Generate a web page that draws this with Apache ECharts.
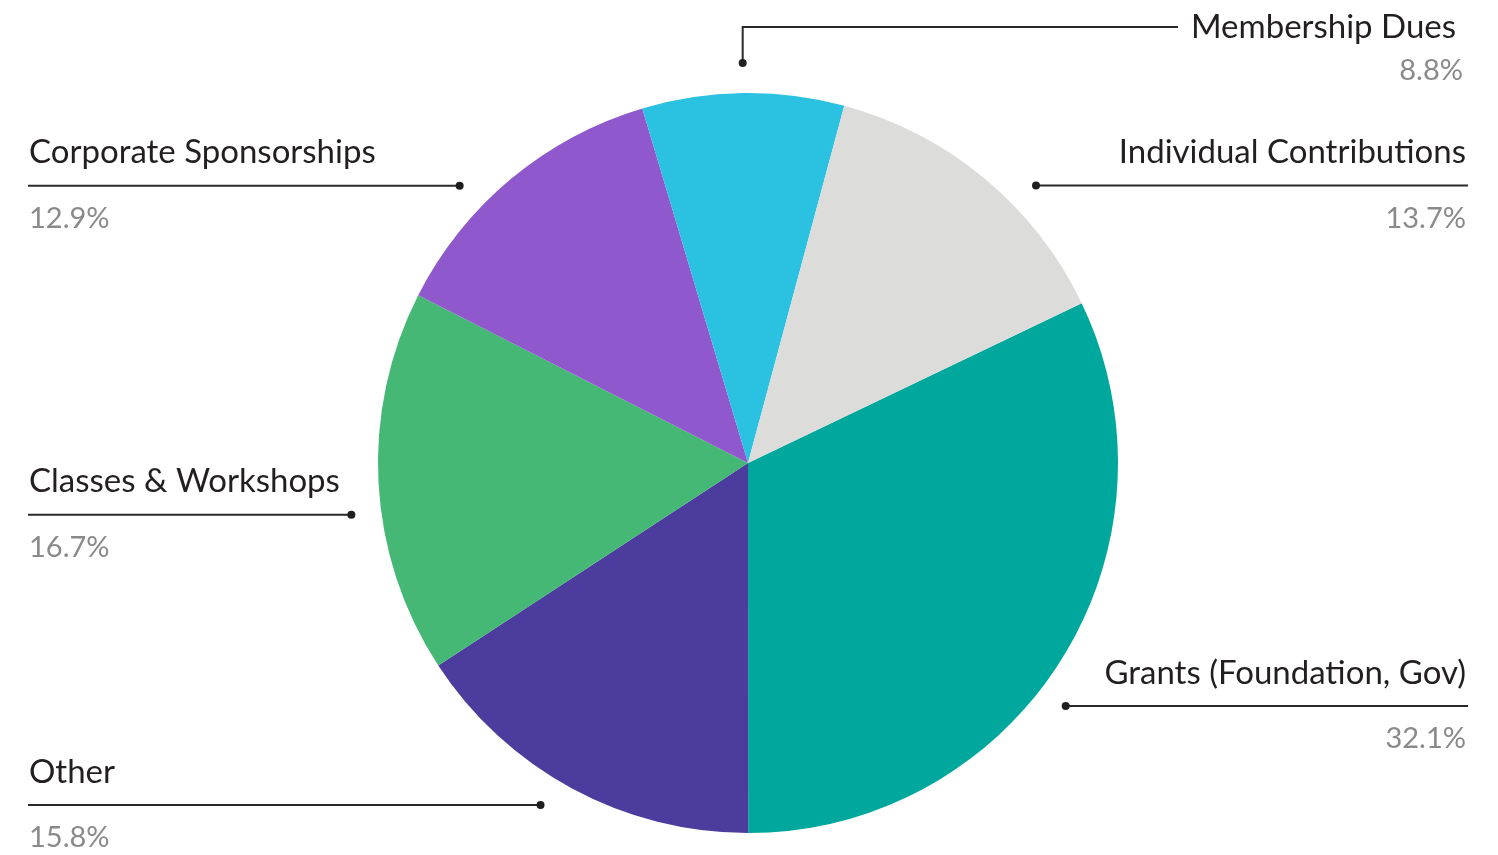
<!DOCTYPE html>
<html><head><meta charset="utf-8">
<script src="https://cdn.jsdelivr.net/npm/echarts@6/dist/echarts.min.js"></script>
<style>html,body{margin:0;padding:0;background:#fff}#c{width:1498px;height:855px}</style>
</head><body><div id="c"></div>
<script>
// ---- data ----
const categories = ['Grants (Foundation, Gov)', 'Other', 'Classes & Workshops', 'Corporate Sponsorships', 'Membership Dues', 'Individual Contributions'];
const values = [32.1, 15.8, 16.7, 12.9, 8.8, 13.7];
const percentLabels = ['32.1%', '15.8%', '16.7%', '12.9%', '8.8%', '13.7%'];
const colors = ['#00a79d', '#4b3c9d', '#44b874', '#8f58cd', '#2bc1e1', '#dcdcda'];

// ---- layout / style ----
const W = 1498, H = 855;
const CX = 748, CY = 463, R = 370, START = 25.6;
const DOT_R = R + 30, EDGE = 30, TOP_Y = 27, LABEL_DY = 30;
const FONT = 'Lato';
const NAME_SIZE = 33, PCT_SIZE = 29;

const total = values.reduce((a, b) => a + b, 0);
let acc = 0;
const lay = values.map((v, i) => {
  const mid = (START - (acc + v / 2) / total * 360) * Math.PI / 180;
  acc += v;
  const c = Math.cos(mid), s = Math.sin(mid);
  return { i, mid, side: c >= 0 ? 'right' : 'left', top: Math.abs(c) < 0.2 && s > 0, y: CY - DOT_R * s + LABEL_DY };
});
['left', 'right'].forEach(side => {
  const items = lay.filter(l => l.side === side && !l.top).sort((a, b) => a.y - b.y);
  items.forEach(l => { l.y = Math.min(Math.max(l.y, TOP_Y + 110), H - 50); });
  for (let k = 1; k < items.length; k++) {
    if (items[k].y - items[k - 1].y < 130) items[k].y = items[k - 1].y + 130;
  }
});
lay.forEach(l => {
  if (l.top) {
    l.dot = [CX + DOT_R * Math.cos(l.mid), CY - DOT_R * Math.sin(l.mid)];
    l.y = TOP_Y;
  } else {
    const dy = l.y - CY;
    const dx = Math.sqrt(Math.max(DOT_R * DOT_R - dy * dy, 0));
    l.dot = [l.side === 'right' ? CX + dx : CX - dx, l.y];
  }
});

const chart = echarts.init(document.getElementById('c'), null, { renderer: 'canvas' });
chart.setOption({
  animation: false,
  backgroundColor: '#ffffff',
  graphic: lay.map(l => ({
    type: 'circle', z: 100, silent: true,
    shape: { cx: l.dot[0], cy: l.dot[1], r: 4 },
    style: { fill: '#1f1f1f' }
  })),
  series: [{
    type: 'pie',
    center: [CX, CY],
    radius: R,
    startAngle: START,
    clockwise: true,
    silent: true,
    avoidLabelOverlap: false,
    data: categories.map((n, i) => ({ name: n, value: values[i], itemStyle: { color: colors[i] } })),
    itemStyle: { borderWidth: 0 },
    emphasis: { disabled: true },
    label: {
      show: true,
      position: 'outside',
      fontFamily: FONT,
      formatter: p => lay[p.dataIndex].top
        ? `{nt|${p.name}}\n{pt|${percentLabels[p.dataIndex]}}`
        : `{n|${p.name}}\n{p|${percentLabels[p.dataIndex]}}`,
      rich: {
        n: { fontFamily: FONT, fontSize: NAME_SIZE, color: '#231f20', lineHeight: 66 },
        p: { fontFamily: FONT, fontSize: PCT_SIZE, color: '#8a8a8a', lineHeight: 66 },
        nt: { fontFamily: FONT, fontSize: NAME_SIZE, color: '#231f20', lineHeight: 44, padding: [0, 7, 0, 0] },
        pt: { fontFamily: FONT, fontSize: PCT_SIZE, color: '#8a8a8a', lineHeight: 44 }
      }
    },
    labelLine: { show: true, length: 30, length2: 10, smooth: false, lineStyle: { color: '#2a2a2a', width: 2 } },
    labelLayout: function (p) {
      const l = lay[p.dataIndex];
      if (l.top) {
        const xr = W - 35;
        const endX = xr - p.labelRect.width - 13;
        return { x: xr, y: TOP_Y - 22, align: 'right', verticalAlign: 'top',
          labelLinePoints: [l.dot, [l.dot[0], TOP_Y], [endX, TOP_Y]] };
      }
      if (l.side === 'right') {
        return { x: W - EDGE - 2, y: l.y - 66, align: 'right', verticalAlign: 'top',
          labelLinePoints: [l.dot, [W - EDGE, l.y]] };
      }
      return { x: EDGE - 1, y: l.y - 66, align: 'left', verticalAlign: 'top',
        labelLinePoints: [l.dot, [EDGE - 2, l.y]] };
    }
  }]
});
</script></body></html>
